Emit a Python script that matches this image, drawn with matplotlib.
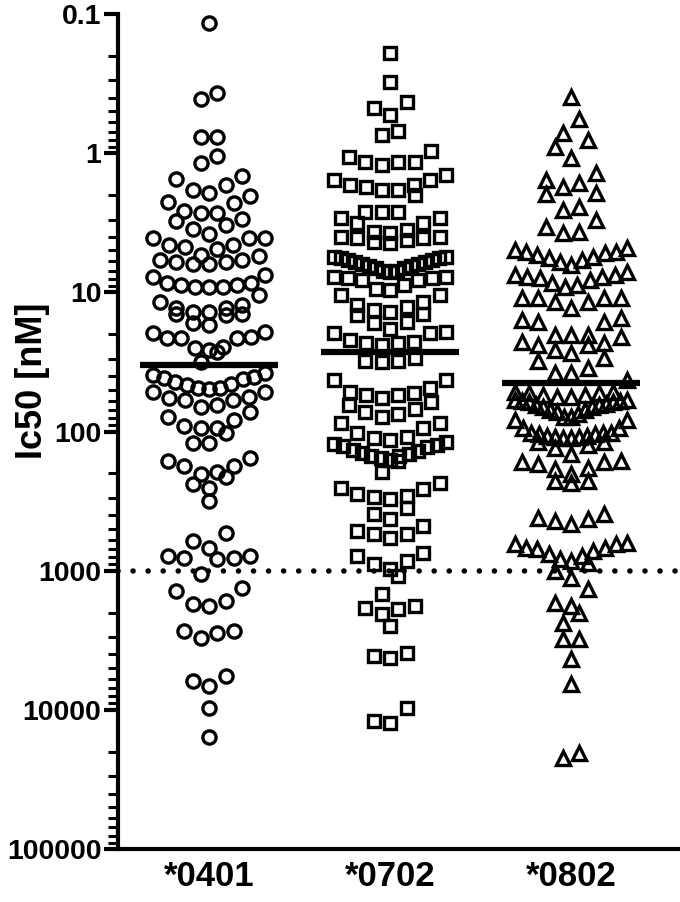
import numpy as np
from matplotlib import pyplot as plt
from matplotlib.ticker import FixedLocator, LogLocator, NullFormatter

groups = ['*0401', '*0702', '*0802']
markers = ['o', 's', '^']
medians = [33.5, 27.0, 45.0]
cutoff = 1000
yticks = [0.1, 1, 10, 100, 1000, 10000, 100000]
yticklabels = ['0.1', '1', '10', '100', '1000', '10000', '100000']

# IC50 values [nM]
ic50_0401 = [0.117, 0.37, 0.41, 0.77, 0.77, 1.05, 1.17, 1.46, 1.54, 1.70, 1.85, 1.93, 2.04,
             2.24, 2.28, 2.60, 2.67, 2.67,
             2.98, 3.07, 3.30, 3.48, 3.78, 4.04, 4.04, 4.04,
             4.59, 4.59, 4.72, 4.85, 5.42, 5.51, 5.82, 5.82, 6.05, 6.05, 6.22, 6.22,
             7.55, 7.76, 8.6, 8.6, 8.9, 8.9, 9.2, 9.2, 9.2,
             10.5, 11.8, 12.4, 13.0, 13.0, 13.9, 13.9, 14.2, 14.2, 14.6,
             16.7, 17.3,
             19.4, 19.7, 21.1, 21.4, 21.4, 21.4, 24.9, 25.3,
             26.1, 27.0, 31.9, 38.3,
             39.5, 40.9, 41.6, 42.3, 44.4, 45.2, 46.7, 48.3, 48.3, 49.9, 52.4, 52.4,
             56.9, 57.9, 59.8, 59.8, 65, 67.2, 73, 79.3,
             83.3, 90.6, 93.6, 95, 102, 120, 120,
             156, 162, 176, 176, 197, 201, 214,
             237, 253, 314, 533, 609, 683,
             780, 780, 806, 806, 820,
             1050, 1326, 1393, 1643, 1727, 1786,
             2703, 2703, 2793, 3033,
             5693, 6185, 6718, 9680, 15640]

ic50_0702 = [0.19, 0.31, 0.43, 0.47, 0.53, 0.69, 0.74, 0.97,
             1.07, 1.16, 1.16, 1.16, 1.22,
             1.44, 1.56, 1.56, 1.70, 1.70, 1.76, 1.85, 1.85, 2.01,
             2.66, 2.66, 2.66, 2.94, 2.94, 3.19, 3.19, 3.58,
             3.70, 3.77, 4.02, 4.02, 4.09, 4.09, 4.23, 4.37, 4.44,
             5.6, 5.6, 5.7, 5.7, 5.9, 5.9, 6.1, 6.1, 6.3, 6.3, 6.5, 6.5, 6.7, 6.7, 7.0, 7.0, 7.1,
             7.7, 7.7, 7.9, 7.9, 8.2, 8.2,
             8.9, 9.4, 9.7,
             10.5, 10.5, 11.8, 12.4, 12.8, 13.5, 13.9,
             14.2, 14.6, 16.4, 16.7, 18.2, 19.4,
             19.7, 19.7, 22.1, 22.9, 23.3, 23.3, 24.1,
             29.8, 30.9, 30.9, 31.9,
             43, 43,
             48.3, 52.4, 53.3, 55.1, 55.1, 57.9, 61.8, 65, 68.4,
             73, 74.3, 79.3, 86.2, 86.2, 93.6, 102,
             110, 112, 116, 118, 122, 124, 128, 130, 135, 137, 142, 144, 149, 151, 156, 159, 164,
             197,
             233, 253, 257, 279, 289, 298, 303,
             352, 389, 423, 475,
             515, 542, 542, 579,
             743, 780, 891,
             848, 968, 1087,
             1462,
             1786, 1845, 1875, 2037,
             2489,
             3890, 4093, 4227,
             9680, 12000, 12420]

ic50_0802 = [0.395, 0.57, 0.72, 0.81, 0.91, 1.09, 1.39, 1.56,
             1.64, 1.76, 1.94, 1.97,
             2.45, 2.57,
             3.03, 3.41, 3.70, 3.77,
             4.82, 4.99, 5.16, 5.16, 5.24, 5.42, 5.6, 5.7, 5.89, 6.08, 6.4, 7.18,
             7.55, 7.55, 7.80, 7.80, 7.93, 8.2, 8.61, 8.9, 9.2, 10.9, 10.9, 10.9, 10.9,
             11.8, 11.8, 13.0,
             15.4, 15.9, 16.4, 16.4,
             20.4, 20.4, 20.4, 21.1, 22.9, 23.3, 24.1, 24.1, 26.1, 27.5,
             29.8, 30.9, 34.7,
             38.3, 38.3, 43.0,
             52.4, 52.4, 53.3, 53.3, 55.1, 55.1, 56.9, 56.9, 58.9, 58.9, 60.8, 60.8, 61.8, 61.8,
             63, 65, 65, 67.2, 67.2, 70.6, 70.6, 73, 74.3, 79.3, 79.3, 83.3,
             83.3, 93.6, 93.6,
             103, 103, 103, 105, 105, 107, 107, 110, 110, 112, 112, 118, 118, 124,
             132, 144,
             162, 167, 167, 170, 182, 185, 201, 225, 225, 233,
             389, 416, 423, 437, 459,
             630, 640, 640, 683, 683, 695, 718, 755, 780, 820,
             848, 875, 1000, 1122,
             1346,
             1698, 1786,
             2004,
             2366,
             3083, 3083,
             4295,
             6501,
             20370, 22130]

data = [ic50_0401, ic50_0702, ic50_0802]

PX = 1 / 181.  # one pixel in x data units (groups are ~181 px apart)


def spread(values, h=0.13, step=16.5 * PX, span=112 * PX):
    # GraphPad-like scatter: points within h decades share a row,
    # largest values sit in the middle of the row
    lv = np.log10(values)
    order = np.argsort(lv, kind='stable')
    xs = np.zeros(len(values))
    i = 0
    while i < len(order):
        j = i
        while j < len(order) and lv[order[j]] - lv[order[i]] < h:
            j += 1
        idx = order[i:j]
        n = len(idx)
        d = step if n < 2 else min(step, span / (n - 1))
        slots = (np.arange(n) - (n - 1) / 2.) * d
        slots = slots[np.argsort(np.abs(slots), kind='stable')]
        idx = idx[np.argsort(-lv[idx], kind='stable')]
        xs[idx] = slots
        i = j
    return xs


fig = plt.figure(figsize=(6.8, 9.02), dpi=100)
ax = fig.add_axes([118 / 680., 53 / 902., 562 / 680., 835 / 902.])

for i, vals in enumerate(data):
    xs = spread(vals)
    ax.plot(i + xs, vals, ls='none', marker=markers[i], ms=9.5 if i != 1 else 9,
            mfc='none', mec='black', mew=2.4)
    ax.hlines(medians[i], i - 0.38, i + 0.38, color='black', lw=4.5, zorder=5)

ax.axhline(cutoff, color='black', lw=4, ls=(0, (0.01, 2.7)), dash_capstyle='round')

ax.set_yscale('log')
ax.set_ylim(100000, 0.1)
ax.set_xlim(-(209 - 118) * PX, 2 + (680 - 571) * PX)

ax.yaxis.set_major_locator(FixedLocator(yticks))
ax.set_yticklabels(yticklabels)
ax.yaxis.set_minor_locator(LogLocator(base=10, subs=np.arange(2, 10)))
ax.yaxis.set_minor_formatter(NullFormatter())
ax.set_xticks(range(len(groups)))
ax.set_xticklabels(groups)

for s in ['top', 'right']:
    ax.spines[s].set_visible(False)
for s in ['left', 'bottom']:
    ax.spines[s].set_linewidth(3)

ax.tick_params(axis='y', which='major', length=10, width=3, labelsize=20.5, pad=2)
ax.tick_params(axis='y', which='minor', length=7, width=2.2)
ax.tick_params(axis='x', length=0, labelsize=25, pad=8)
for lab in ax.get_yticklabels() + ax.get_xticklabels():
    lab.set_family('Liberation Sans')
    lab.set_fontweight('bold')

fig.text(32 / 680., 1 - 381 / 902., 'Ic50 [nM]', rotation=90, ha='center', va='center',
         fontsize=26, fontweight='bold', family=['Liberation Sans Narrow', 'Liberation Sans'])

fig.savefig('out.png', dpi=100)
